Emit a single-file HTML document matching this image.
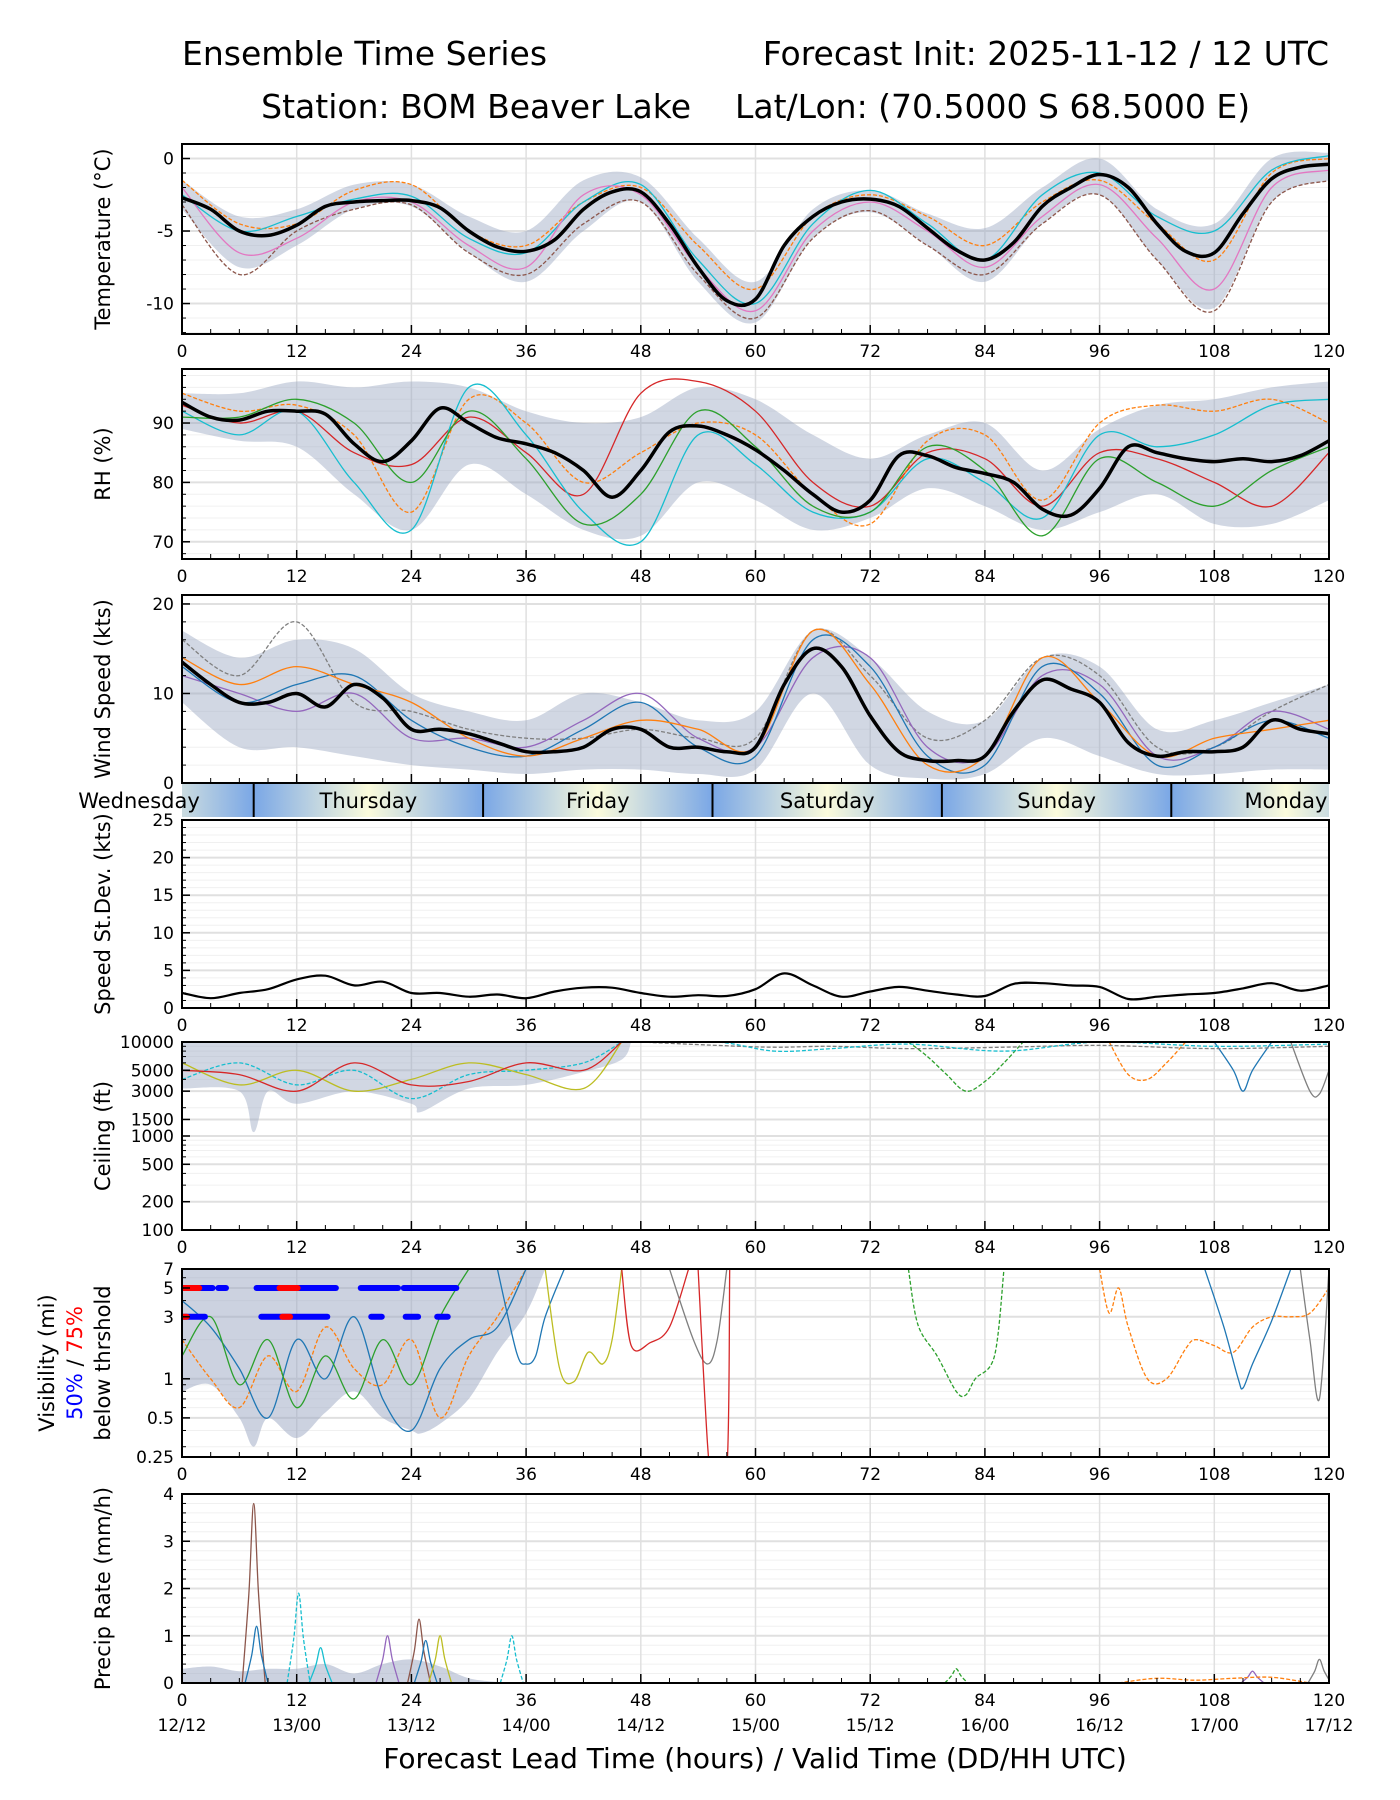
<!DOCTYPE html>
<html><head><meta charset="utf-8">
<style>
html,body{margin:0;padding:0;background:#fff;}
svg{display:block;font-family:"DejaVu Sans","Liberation Sans",sans-serif;}
</style></head>
<body>
<svg id="chart" width="1400" height="1800" viewBox="0 0 1400 1800" xmlns="http://www.w3.org/2000/svg">
<defs>
<linearGradient id="dayGrad" x1="0" x2="1" y1="0" y2="0">
<stop offset="0" stop-color="#7aa7e6"/><stop offset="0.5" stop-color="#fbfbdc"/><stop offset="1" stop-color="#7aa7e6"/>
</linearGradient>
</defs>
<text x="182" y="65" font-size="33">Ensemble Time Series</text>
<text x="1329" y="65" font-size="33" text-anchor="end">Forecast Init: 2025-11-12 / 12 UTC</text>
<text x="691" y="118" font-size="33" text-anchor="end">Station: BOM Beaver Lake</text>
<text x="735" y="118" font-size="33">Lat/Lon: (70.5000 S 68.5000 E)</text>
<text x="755" y="1768" font-size="28" text-anchor="middle">Forecast Lead Time (hours) / Valid Time (DD/HH UTC)</text>
<g id="layer"></g>
</svg>
<script>
// ---------- data ----------
const hours3 = [0,3,6,9,12,15,18,21,24,27,30,33,36,39,42,45,48,51,54,57,60,63,66,69,72,75,78,81,84,87,90,93,96,99,102,105,108,111,114,117,120];
const hours6 = [0,6,12,18,24,30,36,42,48,54,60,66,72,78,84,90,96,102,108,114,120];
const tempMean = [-2.7,-3.5,-5.0,-5.3,-4.6,-3.3,-3.0,-2.9,-2.9,-3.4,-5.0,-6.1,-6.4,-5.6,-3.5,-2.3,-2.3,-4.5,-7.5,-9.8,-9.7,-6.0,-4.0,-3.0,-2.8,-3.3,-4.8,-6.3,-7.0,-5.8,-3.3,-2.0,-1.1,-2.0,-4.5,-6.4,-6.5,-3.8,-1.4,-0.6,-0.4];
const tempMin = [-3.5,-7.5,-6,-3.5,-3.3,-6.5,-8.5,-5,-3,-8.5,-11.3,-5.5,-3.7,-6,-8.5,-4.5,-2.5,-7,-10.3,-3,-1.5];
const tempMax = [-1.5,-4,-3.5,-1.8,-1.8,-4,-5,-1.5,-1.3,-5.5,-8.5,-3.5,-2.2,-3.8,-4.8,-2,0.0,-3.5,-4.5,0.0,0.4];
const tempM1 = [-1.5,-4.5,-4.5,-2.2,-1.8,-5,-6,-3,-2,-6,-9,-4,-2.5,-4,-6,-3,-1.5,-4.5,-7,-1,0];
const tempM2 = [-3.2,-8,-5,-3.5,-3.2,-6.5,-8,-4.5,-3,-8,-11,-5.5,-3.6,-6,-8,-4.5,-2.5,-7,-10.5,-3,-1.5];
const tempM3 = [-2.5,-5,-4,-2.8,-2.6,-5.5,-6.5,-3,-1.8,-7,-10,-4.5,-2.2,-4.5,-7,-2.5,-1,-4,-5,-0.8,0.2];
const tempM4 = [-2,-6.5,-5.5,-3,-3,-6,-7.5,-2.5,-2.5,-7.5,-10.5,-5,-3,-5,-7.5,-4,-1.8,-5.5,-9,-2,-0.8];
const rhMean = [93.5,91,90.5,92,92,91.5,86.5,83.5,87,92.5,90,87.5,86.5,85,82,77.5,82,88.5,89.5,88,85.5,82,78,75,77,84.5,84.5,82.5,81.5,80,75.5,74.5,79,86,85,84,83.5,84,83.5,84.5,87];
const rhMin = [89,87,86,78,72,83,78,72,71,80,77,72,74,79,76,72,75,78,73,73,77];
const rhMax = [95,95,97,96,97,96,92,90,91,96,94,88,84,88,90,82,89,93,94,96,97];
const rhM1 = [93,90,92,85,83,91,85,78,95,97,92,80,76,85,84,76,85,84,80,76,85];
const rhM2 = [95,92,93,88,75,94,90,80,85,90,88,78,73,87,88,77,90,93,92,94,90];
const rhM3 = [92,88,92,80,72,96,88,75,70,88,83,75,75,84,80,74,88,86,88,93,94];
const rhM4 = [91,91,94,90,80,92,84,73,78,92,86,76,75,86,82,71,84,80,76,82,86];
const windMean = [13.5,11,9,9,10,8.5,11,9.5,6,6,5.5,4.5,3.5,3.5,4,6,6,4,4,3.5,4,11,15,13,7.5,3.5,2.5,2.5,3,8,11.5,10.5,9,4.5,3,3.5,3.5,4,7,6,5.5];
const windMin = [9,4,4,3,2,1.5,1,1.5,1.5,1,1.5,10,2,0.5,1,5,3,1,1,1.5,1.5];
const windMax = [17,14,16,15,10,8,7,10,9,7,8,17,14,8,7,14,13,6,7,9,11];
const windM1 = [16,12,18,9,8,6,5,5,6,5,5,17,12,5,7,14,12,4,4,8,11];
const windM2 = [12,10,8,10,5,5,4,7,10,5,4,14,14,4,3,12,11,3,4,8,6];
const windM3 = [13,9,11,12,7,4,3,6,9,4,3,16,13,3,2,13,10,2,4,7,5];
const windM4 = [14,11,13,11,9,5,3,5,7,6,4,17,11,2,3,14,9,3,5,6,7];
const stdMean = [2,1.3,2,2.5,3.8,4.3,3.0,3.5,2,2,1.5,1.8,1.3,2.2,2.7,2.7,2.0,1.5,1.7,1.6,2.5,4.6,3,1.5,2.2,2.8,2.3,1.8,1.6,3.2,3.3,3.0,2.8,1.2,1.5,1.8,2.0,2.6,3.3,2.3,3];
const ceilHours = [0,6,7.5,9,12,18,24,25,30,36,42,46,47];
const ceilMin = [3200,3000,1100,3000,2200,3000,2200,1800,3200,3500,4800,6500,10000];
const ceilMemberA = [[76,10000],[78,7000],[80,4500],[82,3000],[84,3800],[86,6000],[88,10000]];
const ceilMemberB = [[97,10000],[99,4500],[101,4000],[103,6000],[105,10000]];
const ceilMemberC = [[108,10000],[110,5000],[111,3000],[112,5000],[114,10000]];
const ceilMemberD = [[116,10000],[118,3000],[119,2800],[120,5000]];
const visHours = [0,3,6,7.5,9,12,15,18,21,24,25,27,30,33,36,38];
const visMin = [0.8,0.9,0.5,0.3,0.5,0.35,0.55,0.8,0.5,0.4,0.38,0.45,0.7,1.6,3.2,7];
const visMemberA = [[33,7],[35,1.6],[36,1.3],[37,1.5],[38,3],[40,7]];
const visMemberB = [[38,7],[39.5,1.2],[41,0.95],[42.5,1.6],[44,1.3],[45,2],[46,7]];
const visMemberC = [[46,7],[47,1.8],[49,1.9],[51,2.5],[53,7]];
const visMemberD = [[51,7],[53.5,2],[55,1.3],[56,2],[57,7]];
const visMemberE = [[54,7],[55,0.3],[55.5,0.2],[57,0.2],[57.3,7]];
const visMemberF = [[76,7],[77,2.6],[79,1.5],[81,0.8],[82,0.75],[83,1.0],[85,1.5],[86,7]];
const visMemberG = [[96,7],[97,3.2],[98,5],[99,2.5],[101,1.0],[103,1.0],[105,1.7],[106,2],[108,1.8],[110,1.6],[112,2.5],[114,3],[116,3],[118,3.2],[120,5]];
const visMemberH = [[107,7],[109,2.5],[110.5,1.0],[111,0.85],[112,1.3],[114,2.8],[116,7]];
const visMemberI = [[117,7],[118,2],[119,0.7],[120,7]];
const vis50Row5 = [[0,3.2],[3.8,4.6],[7.8,16.1],[18.7,22.6],[23.2,28.7]];
const vis75Row5 = [[0,1.8],[10.2,12.1]];
const vis50Row3 = [[0,2.4],[8.3,15.2],[19.8,20.9],[23.4,24.7],[26.7,27.8]];
const vis75Row3 = [[0,0.5],[10.5,11.3]];
const precipHours = [0,3,6,9,12,15,18,21,24,27,30,33];
const precipBase = [0.3,0.35,0.25,0.3,0.3,0.4,0.2,0.4,0.5,0.35,0.1,0.02];
const precipPeakHours = [7.5,7.8,12.2,14.5,21.5,24.8,25.5,27,34.5,81,119,112];
const precipPeakValues = [3.8,1.2,1.9,0.75,1.0,1.35,0.9,1.0,1.0,0.3,0.5,0.25];
const dayNames = ["Wednesday","Thursday","Friday","Saturday","Sunday","Monday"];
const dayBoundaries = [7.5,31.5,55.5,79.5,103.5];
const xTicks = [0,12,24,36,48,60,72,84,96,108,120];
const dateLabels = ["12/12","13/00","13/12","14/00","14/12","15/00","15/12","16/00","16/12","17/00","17/12"];

// ---------- helpers ----------
const NS = "http://www.w3.org/2000/svg";
const layer = document.getElementById("layer");
const X0 = 182, X1 = 1329;
function xs(h){ return X0 + (X1 - X0) * h / 120; }
function mk(tag, attrs, parent){
  const e = document.createElementNS(NS, tag);
  for (const k in attrs) e.setAttribute(k, attrs[k]);
  (parent || layer).appendChild(e);
  return e;
}
function smoothPath(pts){
  if (pts.length < 2) return "";
  let d = "M" + pts[0][0].toFixed(1) + "," + pts[0][1].toFixed(1);
  for (let i = 0; i < pts.length - 1; i++){
    const p0 = pts[Math.max(0,i-1)], p1 = pts[i], p2 = pts[i+1], p3 = pts[Math.min(pts.length-1,i+2)];
    const c1x = p1[0] + (p2[0]-p0[0])/6, c1y = p1[1] + (p2[1]-p0[1])/6;
    const c2x = p2[0] - (p3[0]-p1[0])/6, c2y = p2[1] - (p3[1]-p1[1])/6;
    d += " C" + c1x.toFixed(1)+","+c1y.toFixed(1)+" "+c2x.toFixed(1)+","+c2y.toFixed(1)+" "+p2[0].toFixed(1)+","+p2[1].toFixed(1);
  }
  return d;
}
function makePanel(name, top, bottom, ymin, ymax, log){
  const P = {name, top, bottom, ymin, ymax, log};
  P.y = function(v){
    if (log){
      const a = Math.log10(ymin), b = Math.log10(ymax);
      const c = Math.log10(Math.max(v, ymin*0.5));
      return bottom - (bottom-top) * (c - a) / (b - a);
    }
    return bottom - (bottom-top) * (v - ymin) / (ymax - ymin);
  };
  P.g = mk("g", {});
  
  
  const cp = mk("clipPath", {id: "clip-" + name}, P.g);
  mk("rect", {x: X0, y: top, width: X1-X0, height: bottom-top}, cp);
  P.clip = mk("g", {"clip-path": "url(#clip-" + name + ")"}, P.g);
  return P;
}
function grid(P, minorVals, majorVals, labelVals, ylabelLines){
  for (const v of minorVals){
    const l = mk("line", {x1:X0, x2:X1, y1:P.y(v), y2:P.y(v), stroke:"#f0f0f0", "stroke-width":1}, P.clip);
    
    
  }
  for (const v of majorVals){
    const l = mk("line", {x1:X0, x2:X1, y1:P.y(v), y2:P.y(v), stroke:"#e0e0e0", "stroke-width":2}, P.clip);
    
    
  }
  for (const h of xTicks){
    const l = mk("line", {x1:xs(h), x2:xs(h), y1:P.top, y2:P.bottom, stroke:"#e0e0e0", "stroke-width":1.5}, P.clip);
    
    
  }
  for (const v of labelVals){
    const t = mk("text", {x: X0-8, y: P.y(v)+6, "font-size":17, "text-anchor":"end"}, P.g);
    t.textContent = String(v);
    
    
    mk("line", {x1:X0, x2:X0+8, y1:P.y(v), y2:P.y(v), stroke:"#000", "stroke-width":1.5}, P.g);
  }
  for (const v of minorVals){
    mk("line", {x1:X0, x2:X0+4, y1:P.y(v), y2:P.y(v), stroke:"#000", "stroke-width":1}, P.g);
  }
  const cy = (P.top + P.bottom)/2;
  const n = ylabelLines.length;
  ylabelLines.forEach((ln, i) => {
    const xx = 110 - (n-1-i)*28;
    const t = mk("text", {x: xx, y: cy, "font-size":21, "text-anchor":"middle", transform:"rotate(-90 "+xx+" "+cy+")"}, P.g);
    
    
    if (typeof ln === "string") t.textContent = ln;
    else ln.forEach(seg => { const s = mk("tspan", {fill: seg[1]}, t); s.textContent = seg[0]; });
  });
}
function frame(P, labels){
  for (let h = 0; h <= 120; h += 3){
    const major = h % 12 === 0;
    mk("line", {x1:xs(h), x2:xs(h), y1:P.bottom, y2:P.bottom-(major?9:5), stroke:"#000", "stroke-width":major?1.5:1}, P.g);
  }
  const r = mk("rect", {x:X0, y:P.top, width:X1-X0, height:P.bottom-P.top, fill:"none", stroke:"#000", "stroke-width":2}, P.g);
  
  
  if (labels){
    for (const h of xTicks){
      const t = mk("text", {x: xs(h), y: P.bottom+23, "font-size":17, "text-anchor":"middle"}, P.g);
      t.textContent = String(h);
      
      
    }
  }
}
function envelope(P, hrs, lo, hi, fill, op){
  const upper = hrs.map((h,i)=>[xs(h), P.y(hi[i])]);
  const lower = hrs.map((h,i)=>[xs(h), P.y(lo[i])]).reverse();
  const d = smoothPath(upper) + " L" + smoothPath(lower).slice(1) + " Z";
  const p = mk("path", {d, fill, "fill-opacity":op, stroke:"none"}, P.clip);
  
  
}
function series(P, hrs, vals, color, w, dash, name){
  const pts = hrs.map((h,i)=>[xs(h), P.y(vals[i])]);
  const attrs = {d: smoothPath(pts), fill:"none", stroke:color, "stroke-width":w};
  if (dash) attrs["stroke-dasharray"] = dash;
  const p = mk("path", attrs, P.clip);
  
  
}
function pairs(P, arr, color, dash, name){
  series(P, arr.map(a=>a[0]), arr.map(a=>a[1]), color, 1.3, dash, name);
}
const ENV = "#9aa6c2", ENVOP = 0.45;

// ---------- temperature ----------
const T = makePanel("temperature", 144, 334, -12.1, 1.0, false);
grid(T, [-12,-11,-9,-8,-7,-6,-4,-3,-2,-1,1], [0,-5,-10], [0,-5,-10], ["Temperature (°C)"]);
envelope(T, hours6, tempMin, tempMax, ENV, ENVOP);
series(T, hours6, tempM1, "#ff7f0e", 1.3, "4,2", "member-line");
series(T, hours6, tempM2, "#8c564b", 1.3, "4,2", "member-line");
series(T, hours6, tempM3, "#17becf", 1.3, null, "member-line");
series(T, hours6, tempM4, "#e377c2", 1.3, null, "member-line");
series(T, hours3, tempMean, "#000", 3.5, null, "ensemble-mean-line");
frame(T, true);

// ---------- RH ----------
const R = makePanel("rh", 369, 559, 67.1, 99.1, false);
grid(R, [68,72,74,76,78,82,84,86,88,92,94,96,98], [70,80,90], [70,80,90], ["RH (%)"]);
envelope(R, hours6, rhMin, rhMax, ENV, ENVOP);
series(R, hours6, rhM1, "#d62728", 1.3, null, "member-line");
series(R, hours6, rhM2, "#ff7f0e", 1.3, "4,2", "member-line");
series(R, hours6, rhM3, "#17becf", 1.3, null, "member-line");
series(R, hours6, rhM4, "#2ca02c", 1.3, null, "member-line");
series(R, hours3, rhMean, "#000", 3.5, null, "ensemble-mean-line");
frame(R, true);

// ---------- wind ----------
const W = makePanel("wind", 595, 783, 0, 21, false);
grid(W, [2,4,6,8,12,14,16,18], [0,10,20], [0,10,20], ["Wind Speed (kts)"]);
envelope(W, hours6, windMin, windMax, ENV, ENVOP);
series(W, hours6, windM1, "#7f7f7f", 1.3, "4,2", "member-line");
series(W, hours6, windM2, "#9467bd", 1.3, null, "member-line");
series(W, hours6, windM3, "#1f77b4", 1.3, null, "member-line");
series(W, hours6, windM4, "#ff7f0e", 1.3, null, "member-line");
series(W, hours3, windMean, "#000", 3.5, null, "ensemble-mean-line");
frame(W, false);

// ---------- day band ----------
(function(){
  const top = 784, bot = 817;
  const g = mk("g", {});
  
  
  const cp = mk("clipPath", {id:"clip-day"}, g);
  mk("rect", {x:X0, y:top, width:X1-X0, height:bot-top}, cp);
  const inner = mk("g", {"clip-path":"url(#clip-day)"}, g);
  for (let i = -1; i < dayBoundaries.length; i++){
    const a = i < 0 ? dayBoundaries[0]-24 : dayBoundaries[i];
    const r = mk("rect", {x: xs(a), y: top, width: xs(a+24)-xs(a), height: bot-top, fill:"url(#dayGrad)"}, inner);
    
    
  }
  for (const b of dayBoundaries){
    mk("line", {x1:xs(b), x2:xs(b), y1:top, y2:bot, stroke:"#000", "stroke-width":2}, g);
  }
  dayNames.forEach((n, i) => {
    const c = dayBoundaries[0] - 12 + 24*i;
    const t = mk("text", {x: xs(c), y: top+24, "font-size":21, "text-anchor":"middle"}, g);
    t.textContent = n;
    
    
  });
})();

// ---------- std dev ----------
const S = makePanel("stddev", 820, 1008, 0, 25, false);
grid(S, [1,2,3,4,6,7,8,9,11,12,13,14,16,17,18,19,21,22,23,24], [0,5,10,15,20,25], [0,5,10,15,20,25], ["Speed St.Dev. (kts)"]);
series(S, hours3, stdMean, "#000", 2.2, null, "speed-stddev-line");
frame(S, true);

// ---------- ceiling ----------
const C = makePanel("ceiling", 1042, 1230, 100, 10000, true);
grid(C, [300,400,600,700,800,900,2000,4000,6000,7000,8000,9000], [100,200,500,1000,1500,3000,5000,10000], [100,200,500,1000,1500,3000,5000,10000], ["Ceiling (ft)"]);
envelope(C, ceilHours, ceilMin, ceilHours.map(()=>10000), ENV, ENVOP);
series(C, [0,6,12,18,24,30,36,42,46], [4000,6000,3500,5000,2500,4500,5000,6000,10000], "#17becf", 1.3, "4,2", "member-line");
series(C, [0,6,12,18,24,30,36,42,46], [6000,3500,5000,3000,4000,6000,4500,3200,10000], "#bcbd22", 1.3, null, "member-line");
series(C, [0,6,12,18,24,30,36,42,46], [5000,4500,3000,6000,3500,3800,6000,5000,10000], "#d62728", 1.3, null, "member-line");
pairs(C, ceilMemberA, "#2ca02c", "4,2", "member-line");
pairs(C, ceilMemberB, "#ff7f0e", "4,2", "member-line");
pairs(C, ceilMemberC, "#1f77b4", null, "member-line");
pairs(C, ceilMemberD, "#7f7f7f", null, "member-line");
series(C, [48,56,62,68,76,86,96,108,120], [10000,9200,8800,9000,8500,8800,9200,8500,9000], "#7f7f7f", 1.3, "4,2", "member-line");
series(C, [48,56,62,68,76,86,96,108,120], [10000,10000,8000,8500,9500,8000,10000,9000,9500], "#17becf", 1.3, "4,2", "member-line");
frame(C, true);

// ---------- visibility ----------
const V = makePanel("visibility", 1269, 1457, 0.25, 7, true);
grid(V, [0.3,0.4,0.6,0.7,0.8,0.9,2,4,6], [0.25,0.5,1,3,5,7], [0.25,0.5,1,3,5,7],
  ["Visibility (mi)", [["50%","#0000ff"],[" / ","#000"],["75%","#ff0000"]], "below thrshold"]);
envelope(V, visHours, visMin, visHours.map(()=>7), ENV, 0.5);
series(V, [0,3,6,9,12,15,18,21,24,27,30,33,36], [2,1,0.6,1.5,0.8,2.5,1.2,0.9,2,0.5,1.5,3,7], "#ff7f0e", 1.3, "4,2", "member-line");
series(V, [0,3,6,9,12,15,18,21,24,27,30,33,36], [4,2.5,1.2,0.5,2,1,3,0.7,0.4,1.2,2,2.5,7], "#1f77b4", 1.3, null, "member-line");
series(V, [0,3,6,9,12,15,18,21,24,27,30], [1.5,3,0.9,2,0.6,1.5,0.7,2,0.9,3,7], "#2ca02c", 1.3, null, "member-line");
pairs(V, visMemberA, "#1f77b4", null, "member-line");
pairs(V, visMemberB, "#bcbd22", null, "member-line");
pairs(V, visMemberC, "#d62728", null, "member-line");
pairs(V, visMemberD, "#7f7f7f", null, "member-line");
pairs(V, visMemberE, "#d62728", null, "member-line");
pairs(V, visMemberF, "#2ca02c", "4,2", "member-line");
pairs(V, visMemberG, "#ff7f0e", "4,2", "member-line");
pairs(V, visMemberH, "#1f77b4", null, "member-line");
pairs(V, visMemberI, "#7f7f7f", null, "member-line");
function segs(arr, val, color, name){
  for (const s of arr){
    const l = mk("line", {x1: xs(s[0]), x2: xs(s[1]), y1: V.y(val), y2: V.y(val), stroke: color, "stroke-width": 6, "stroke-linecap":"round"}, V.clip);
    
    
  }
}
segs(vis50Row5, 5, "#0000ff", "vis-50pct-marker");
segs(vis75Row5, 5, "#ff0000", "vis-75pct-marker");
segs(vis50Row3, 3, "#0000ff", "vis-50pct-marker");
segs(vis75Row3, 3, "#ff0000", "vis-75pct-marker");
frame(V, true);

// ---------- precip ----------
const Pp = makePanel("precip", 1494, 1683, 0, 4, false);
grid(Pp, [0.2,0.4,0.6,0.8,1.2,1.4,1.6,1.8,2.2,2.4,2.6,2.8,3.2,3.4,3.6,3.8], [0,1,2,3,4], [0,1,2,3,4], ["Precip Rate (mm/h)"]);
envelope(Pp, precipHours, precipHours.map(()=>0), precipBase, ENV, 0.5);
const peakColors = ["#8c564b","#1f77b4","#17becf","#17becf","#9467bd","#8c564b","#1f77b4","#bcbd22","#17becf","#2ca02c","#7f7f7f","#9467bd"];
precipPeakHours.forEach((h, i) => {
  const v = precipPeakValues[i];
  series(Pp, [h-1.2,h-0.5,h,h+0.5,h+1.2], [0, v*0.5, v, v*0.5, 0], peakColors[i], 1.3, (i===2||i===8||i===9)?"4,2":null, "precip-member-peak");
});
series(Pp, [98,102,106,110,114,118], [0,0.1,0.06,0.1,0.12,0], "#ff7f0e", 1.3, "4,2", "member-line");
frame(Pp, true);
dateLabels.forEach((d, i) => {
  const t = mk("text", {x: xs(xTicks[i]), y: 1731, "font-size":17, "text-anchor":"middle"});
  t.textContent = d;
  
  
});
</script>
</body></html>
